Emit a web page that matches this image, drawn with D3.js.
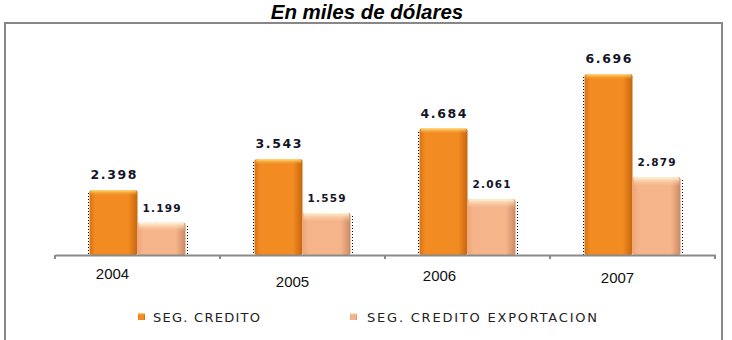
<!DOCTYPE html>
<html>
<head>
<meta charset="utf-8">
<script src="https://cdn.jsdelivr.net/npm/d3@7"></script>
<style>
  html, body { margin: 0; padding: 0; background: #fff; }
  svg { display: block; }
</style>
</head>
<body>
<svg id="chart" width="732" height="340"></svg>
<script>
// ---- data ----
const years = ["2004", "2005", "2006", "2007"];
const seriesNames = ["SEG. CREDITO", "SEG. CREDITO EXPORTACION"];
const segCredito = [2398, 3543, 4684, 6696];
const segCreditoExportacion = [1199, 1559, 2061, 2879];
const titleText = "En miles de dólares";

// ---- layout / style constants ----
const tickLabelNudge = [[-25, 24], [-10, 32], [-28, 26], [-15, 28]]; // [dx, dy below axis]

const svg = d3.select("#chart");
const defs = svg.append("defs");

function barGradients(id, side, mid, side2, capTop, capBottom) {
  const g = defs.append("linearGradient").attr("id", id).attr("x1", 0).attr("x2", 1).attr("y1", 0).attr("y2", 0);
  g.append("stop").attr("offset", "0%").attr("stop-color", side);
  g.append("stop").attr("offset", "12%").attr("stop-color", mid);
  g.append("stop").attr("offset", "80%").attr("stop-color", mid);
  g.append("stop").attr("offset", "100%").attr("stop-color", side2);
  const c = defs.append("linearGradient").attr("id", id + "-cap").attr("x1", 0).attr("x2", 0).attr("y1", 0).attr("y2", 1);
  c.append("stop").attr("offset", "0%").attr("stop-color", capTop);
  c.append("stop").attr("offset", "100%").attr("stop-color", capBottom).attr("stop-opacity", 0);
}
barGradients("gOrange", "#d9720f", "#f28c22", "#c8650c", "#ffe07a", "#f8a030");
barGradients("gLight", "#eea478", "#f6b48a", "#c98a64", "#fff6d6", "#f8c49c");

const fills = ["url(#gOrange)", "url(#gLight)"];
const capFills = ["url(#gOrange-cap)", "url(#gLight-cap)"];
const capHeights = [5, 9];
const labelSizes = [12.5, 10.5];
const labelWidths = [46, 38];

// frame
svg.append("rect").attr("x", 5).attr("y", 23).attr("width", 717).attr("height", 340)
  .attr("fill", "none").attr("stroke", "#878787").attr("stroke-width", 2);

// title
svg.append("text").attr("x", 367).attr("y", 19).attr("text-anchor", "middle")
  .attr("font-family", "Liberation Sans, Arial, sans-serif").attr("font-weight", "bold")
  .attr("font-style", "italic").attr("font-size", 20.5).attr("fill", "#000").text(titleText);

// scales
const x = d3.scaleBand().domain(years).range([55, 715]).padding(0);
const bw = x.bandwidth();
const x1 = d3.scaleBand().domain(seriesNames).range([(bw - 96) / 2, (bw + 96) / 2]).padding(0);
const y = d3.scaleLinear().domain([0, 8000]).range([255, 39]);

const fmt = d3.formatLocale({ decimal: ",", thousands: ".", grouping: [3], currency: ["", ""] }).format(",d");

const rows = years.map((yr, i) => ({ year: yr, values: [segCredito[i], segCreditoExportacion[i]] }));

const groups = svg.append("g").selectAll("g").data(rows).join("g")
  .attr("transform", d => `translate(${x(d.year)},0)`);

groups.each(function (d) {
  const g = d3.select(this);
  const gx = x(d.year);
  d.values.forEach((v, s) => {
    const bx = x1(seriesNames[s]);
    const w = x1.bandwidth();
    const top = y(v);
    const h = y(0) - top;
    g.append("rect").attr("x", bx).attr("y", top).attr("width", w).attr("height", h)
      .attr("rx", 2).attr("fill", fills[s]);
    g.append("rect").attr("x", bx + 1).attr("y", top).attr("width", w - 2).attr("height", capHeights[s])
      .attr("rx", 2).attr("fill", capFills[s]);
    // dotted shadow edges (pixel-snapped)
    const absEdge = gx + (s === 0 ? bx - 1.5 : bx + w + 1.5);
    const ex = Math.round(absEdge) + 0.5 - gx;
    g.append("line").attr("x1", ex).attr("x2", ex).attr("y1", Math.round(top) + 3).attr("y2", y(0))
      .attr("stroke", "#000").attr("stroke-width", 1).attr("stroke-dasharray", "1,2");
    // value label
    g.append("text").attr("x", bx + w / 2).attr("y", top - 11).attr("text-anchor", "middle")
      .attr("font-family", "DejaVu Sans, Verdana, sans-serif").attr("font-weight", "bold")
      .attr("font-size", labelSizes[s]).attr("fill", "#141428")
      .attr("textLength", labelWidths[s]).attr("lengthAdjust", "spacing")
      .text(fmt(v));
  });
});

// axis
const axis = d3.axisBottom(x).tickSize(0).tickFormat("");
const ax = svg.append("g").attr("transform", `translate(0,${y(0)})`).call(axis);
ax.select(".domain").attr("stroke", "#8a8a8a").attr("stroke-width", 2);
const bounds = years.map(yr => x(yr)).concat([x(years[years.length - 1]) + bw]);
svg.append("g").selectAll("line").data(bounds).join("line")
  .attr("x1", d => d).attr("x2", d => d).attr("y1", y(0)).attr("y2", y(0) + 4)
  .attr("stroke", "#8a8a8a").attr("stroke-width", 2);

// category labels
svg.append("g").selectAll("text").data(years).join("text")
  .attr("x", (d, i) => x(d) + bw / 2 + tickLabelNudge[i][0])
  .attr("y", (d, i) => y(0) + tickLabelNudge[i][1])
  .attr("text-anchor", "middle")
  .attr("font-family", "Liberation Sans, Arial, sans-serif").attr("font-size", 15)
  .attr("fill", "#111").text(d => d);

// legend
const legendX = [138, 350];
const legendTextW = [107, 230];
const lg = svg.append("g").selectAll("g").data(seriesNames).join("g")
  .attr("transform", (d, i) => `translate(${legendX[i]},313)`);
lg.append("rect").attr("width", 7).attr("height", 7).attr("fill", (d, i) => fills[i]);
lg.append("rect").attr("width", 7).attr("height", 2.5).attr("fill", (d, i) => capFills[i]);
lg.append("text").attr("x", (d, i) => i === 0 ? 15 : 17).attr("y", 8.5)
  .attr("font-family", "DejaVu Sans, Verdana, sans-serif").attr("font-size", 13)
  .attr("fill", "#222").attr("textLength", (d, i) => legendTextW[i]).attr("lengthAdjust", "spacing")
  .text(d => d);
</script>
</body>
</html>
